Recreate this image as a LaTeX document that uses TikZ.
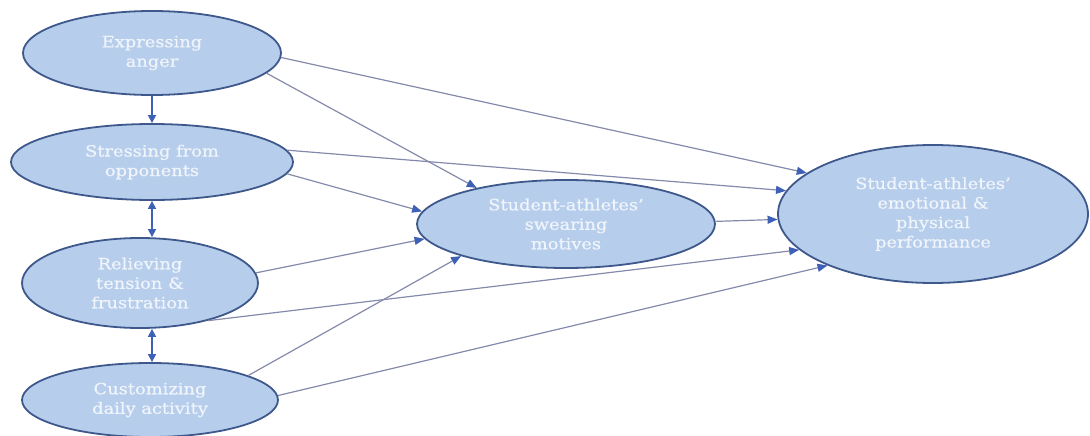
\documentclass[tikz,border=0pt]{standalone}
\usepackage{fontspec}
\newfontfamily\nodefont[FakeStretch=1.15,FakeBold=0.6]{DejaVu Serif}
\usetikzlibrary{shapes.geometric,arrows.meta}
\definecolor{fillblue}{RGB}{182,206,236}
\definecolor{edgeblue}{RGB}{62,88,140}
\definecolor{linegrey}{RGB}{132,138,172}
\definecolor{tipblue}{RGB}{62,96,182}
\definecolor{txt}{RGB}{240,244,251}
\begin{document}
\begin{tikzpicture}[x=1pt,y=-1pt,
  blob/.style={ellipse, draw=edgeblue, line width=1.8pt, fill=fillblue, inner sep=0pt,
    align=center, font=\nodefont\fontsize{15.5}{19.5}\selectfont, text=txt},
  link/.style={draw=linegrey, line width=1.2pt, -{Triangle[length=10pt,width=8pt,color=tipblue]}},
  vlink/.style={draw=tipblue, line width=1.5pt, -{Triangle[length=8pt,width=8pt]}},
  dlink/.style={draw=tipblue, line width=1.5pt, {Triangle[length=8pt,width=8pt]}-{Triangle[length=8pt,width=8pt]}}]
\useasboundingbox (0,0) rectangle (1090,436);
\node[blob, minimum width=258pt, minimum height=84pt] (e1) at (152,53) {Expressing\\anger};
\node[blob, minimum width=282pt, minimum height=76pt] (e2) at (152,162) {Stressing from\\opponents};
\node[blob, minimum width=236pt, minimum height=90pt] (e3) at (140,283) {Relieving\\tension \&\\frustration};
\node[blob, minimum width=256pt, minimum height=74pt] (e4) at (150,400) {Customizing\\daily activity};
\node[blob, minimum width=298pt, minimum height=88pt] (sw) at (566,224) {Student-athletes’\\swearing\\motives};
\node[blob, minimum width=310pt, minimum height=138pt] (pf) at (933,214) {Student-athletes’\\emotional \&\\physical\\performance};
% vertical connectors
\draw[vlink] (e1.south) -- (e2.north);
\draw[dlink] (e2.south) -- (e3.north -| e2.south);
\draw[dlink] (e3.south -| e2.south) -- (e4.north -| e2.south);
% to swearing motives
\draw[link] (e1.-10) -- (sw.158);
\draw[link] (e2.-5.5) -- (sw.175);
\draw[link] (e3.5.3) -- (sw.186);
\draw[link] (e4.14) -- (sw.197);
% to performance
\draw[link] (e1.-2.2) -- (pf.162.5);
\draw[link] (e2.5.7) -- (pf.171);
\draw[link] (sw.1) -- (pf.182);
\draw[link] (e3.-29) -- (pf.195);
\draw[link] (e4.2) -- (pf.206);
\end{tikzpicture}
\end{document}
